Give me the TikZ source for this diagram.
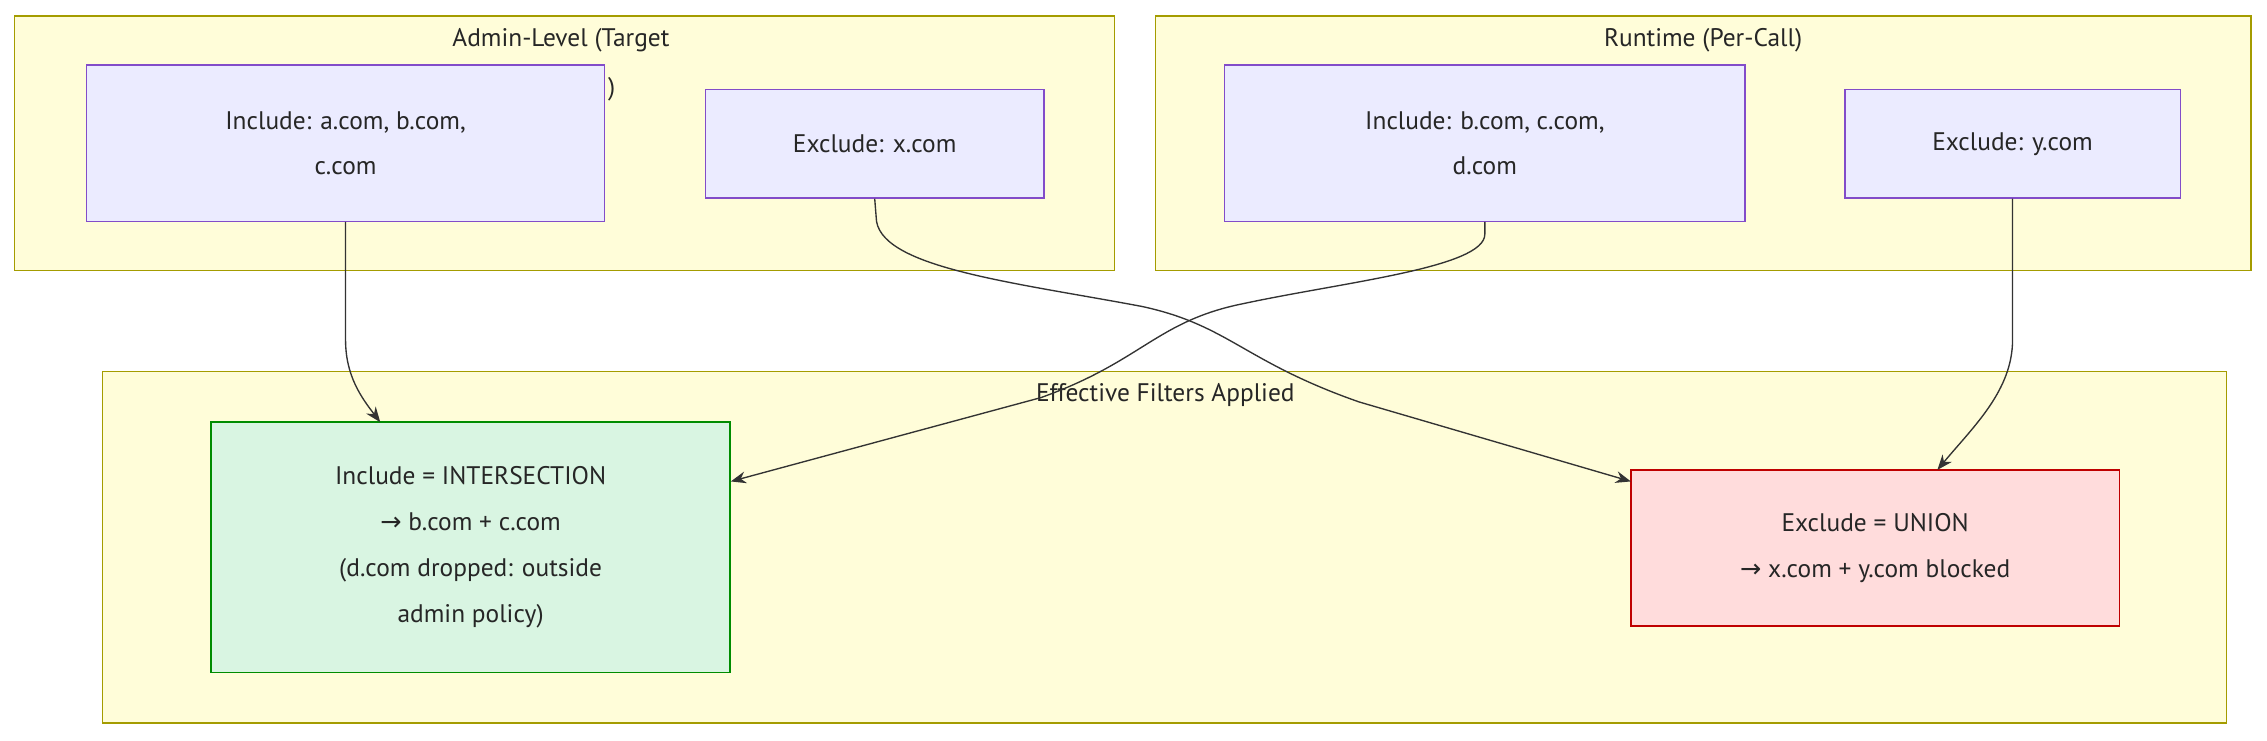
\documentclass[tikz,border=0pt]{standalone}
\usepackage{fontspec}
\setmainfont{PT Sans}
\newfontfamily\arrfont{DejaVu Sans}
\usetikzlibrary{arrows.meta}
\newcommand{\ar}{{\arrfont →}}
\begin{document}
\begin{tikzpicture}[x=0.03cm,y=-0.03cm,
  grp/.style={draw=olive!80!yellow, fill=yellow!15, line width=0.8pt},
  box/.style={draw=violet!60!blue!70, fill=blue!8, line width=0.8pt, align=center, inner sep=0pt, font=\fontsize{15}{27}\selectfont, text=black!85},
  ttl/.style={font=\fontsize{15}{18}\selectfont, text=black!85},
  conn/.style={draw=black!80, line width=0.8pt, -{Stealth[length=9pt,width=7pt]}}]
\useasboundingbox (0,0) rectangle (1568,512);
\fill[white] (0,0) rectangle (1568,512);
\draw[grp] (10,11) rectangle (771,187);
\draw[grp] (799,11) rectangle (1557,187);
\draw[grp] (71,257) rectangle (1540,500);
\node[ttl] (t1) at (388,28) {Admin-Level (Target};
\node[ttl] (t1b) at (423,62) {)};
\node[ttl] (t2) at (1178,28) {Runtime (Per-Call)};
\node[ttl] (t3) at (806,273) {Effective Filters Applied};
\node[box, minimum width=358*0.03cm, minimum height=108*0.03cm] (ia) at (239,99) {Include: a.com, b.com,\\ c.com};
\node[box, minimum width=234*0.03cm, minimum height=75*0.03cm] (ea) at (605,99.5) {Exclude: x.com};
\node[box, minimum width=360*0.03cm, minimum height=108*0.03cm] (ir) at (1027,99) {Include: b.com, c.com,\\ d.com};
\node[box, minimum width=232*0.03cm, minimum height=75*0.03cm] (er) at (1392,99.5) {Exclude: y.com};
\node[box, draw=green!55!black, fill=green!50!teal!15, minimum width=359*0.03cm, minimum height=173*0.03cm] (g) at (325.5,378.5) {Include = INTERSECTION\\ \ar\ b.com + c.com\\ (d.com dropped: outside\\ admin policy)};
\node[box, draw=red!75!black, fill=red!50!pink!22, minimum width=338*0.03cm, minimum height=108*0.03cm] (r) at (1297,379) {Exclude = UNION\\ \ar\ x.com + y.com blocked};
\draw[conn] (ia.south) -- (239,235) .. controls (239,260) and (250,275) .. (263,292);
\draw[conn] (ea.south) -- (606,150) .. controls (606,185) and (700,195) .. (790,212) .. controls (850,225) and (860,250) .. (940,278) -- (1128,333);
\draw[conn] (ir.south) -- (1027,162) .. controls (1027,185) and (930,195) .. (860,210) .. controls (800,222) and (790,250) .. (720,275) -- (g.east |- 0,333);
\draw[conn] (er.south) -- (1392,235) .. controls (1392,270) and (1365,295) .. (1340,325);
\end{tikzpicture}
\end{document}
